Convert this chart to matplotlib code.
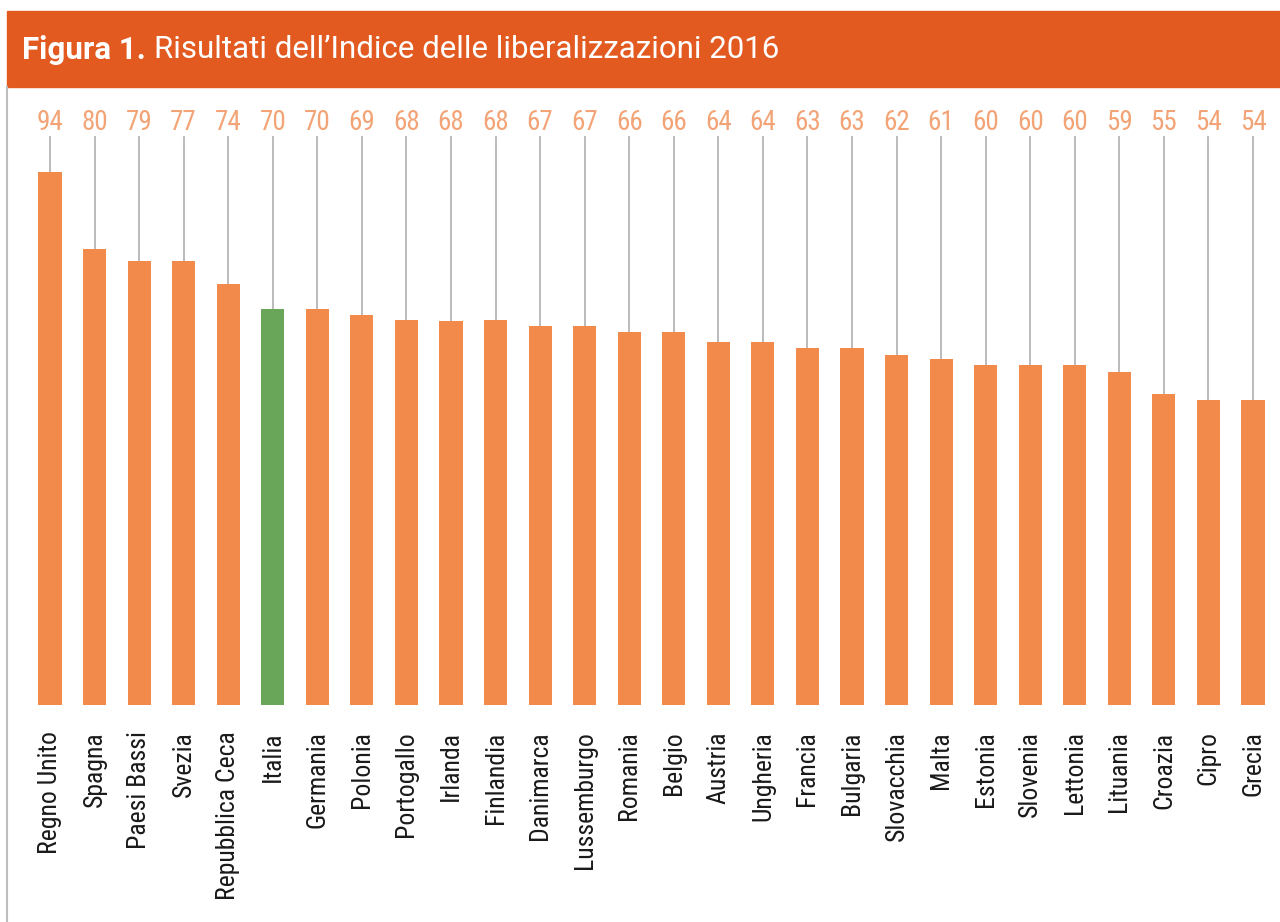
import matplotlib
matplotlib.use('Agg')
import matplotlib.pyplot as plt
from matplotlib.patches import Rectangle
from matplotlib.lines import Line2D

# dati
paesi = ['Regno Unito', 'Spagna', 'Paesi Bassi', 'Svezia', 'Repubblica Ceca', 'Italia',
         'Germania', 'Polonia', 'Portogallo', 'Irlanda', 'Finlandia', 'Danimarca',
         'Lussemburgo', 'Romania', 'Belgio', 'Austria', 'Ungheria', 'Francia',
         'Bulgaria', 'Slovacchia', 'Malta', 'Estonia', 'Slovenia', 'Lettonia',
         'Lituania', 'Croazia', 'Cipro', 'Grecia']
valori = [94, 80, 79, 77, 74, 70, 70, 69, 68, 68, 68, 67, 67, 66, 66, 64, 64, 63,
          63, 62, 61, 60, 60, 60, 59, 55, 54, 54]
# altezze delle barre (lette dal grafico, non coincidono sempre con l'etichetta)
altezze = [94.2, 80.5, 78.5, 78.5, 74.3, 70.0, 70.0, 68.9, 68.0, 67.8, 68.0, 66.9,
           66.9, 65.9, 65.9, 64.1, 64.1, 63.0, 63.0, 61.9, 61.1, 60.0, 60.0, 60.0,
           58.9, 54.9, 53.9, 53.9]
evidenziato = 'Italia'

ARANCIO = '#F28A4C'
VERDE = '#6AA65A'
ETICHETTA = '#F2A477'
TITOLO_BG = '#E35A20'
STRETTO = ['Roboto Condensed', 'Liberation Sans', 'DejaVu Sans']

W, H = 1280, 922
fig = plt.figure(figsize=(W / 100, H / 100), dpi=100)

# fascia del titolo
fig.patches.append(Rectangle((7 / W, 1 - 87 / H), 1 - 7 / W, 76 / H,
                             transform=fig.transFigure, color=TITOLO_BG, zorder=0))
fig.lines.append(Line2D([7 / W, 7 / W], [0, 1 - 87 / H], transform=fig.transFigure,
                        color='#BDBDBD', lw=1.5))
fig.text(22 / W, 1 - 50 / H, 'Figura 1.', color='white', fontsize=22.5,
         fontweight='bold', family=['Roboto', 'DejaVu Sans'], va='center', ha='left')
fig.text(154 / W, 1 - 50 / H, 'Risultati dell\u2019Indice delle liberalizzazioni 2016',
         color='white', fontsize=22.5, family=['Roboto', 'DejaVu Sans'],
         va='center', ha='left')

n = len(paesi)
passo = (1253 - 50) / (n - 1)
left = (50 - 0.5 * passo) / W
right = (1253 + 0.5 * passo) / W
bottom = (H - 705) / H
top = (H - (705 - 100 * 5.66)) / H
ax = fig.add_axes([left, bottom, right - left, top - bottom])

x = list(range(n))
colori = [VERDE if p == evidenziato else ARANCIO for p in paesi]
ax.bar(x, altezze, width=0.52, color=colori, zorder=2)

for xi, h, v in zip(x, altezze, valori):
    ax.plot([xi, xi], [h, 100.3], color='#B5B5B5', lw=1.3, zorder=1, clip_on=False)
    ax.text(xi, 103.0, str(v), ha='center', va='center', fontsize=19.5,
            color=ETICHETTA, family=STRETTO, clip_on=False)

ax.set_xlim(-0.5, n - 0.5)
ax.set_ylim(0, 100)
ax.set_xticks(x)
ax.set_xticklabels(paesi, rotation=90, fontsize=18.5, color='#1A1A1A',
                   family=STRETTO, va='top')
ax.tick_params(axis='x', length=0, pad=19)
ax.set_yticks([])
for s in ax.spines.values():
    s.set_visible(False)

fig.savefig('out.png', dpi=100, facecolor='white')
